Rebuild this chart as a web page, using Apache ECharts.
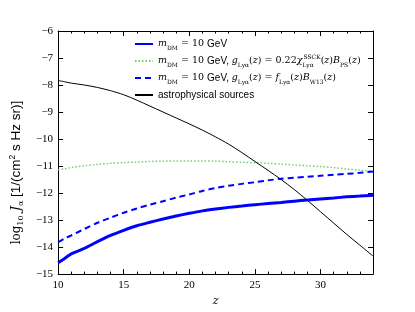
<!DOCTYPE html>
<html><head><meta charset="utf-8">
<script src="https://cdn.jsdelivr.net/npm/echarts@6/dist/echarts.min.js"></script>
<style>html,body{margin:0;padding:0;background:#fff}#c{width:415px;height:312px}</style>
</head><body><div id="c"></div>
<script>
const zValues = [10,10.5,11,12,13,14,15,16,17,18,19,20,21,22,23,24,25,26,27,28,29,30,31,32,33,34];
const dmSolid = [-14.58,-14.42,-14.25,-14.05,-13.8,-13.57,-13.38,-13.21,-13.08,-12.96,-12.85,-12.75,-12.66,-12.59,-12.53,-12.48,-12.43,-12.39,-12.35,-12.3,-12.26,-12.22,-12.18,-12.14,-12.11,-12.08];
const dmDotted = [-11.14,-11.1,-11.06,-10.99,-10.94,-10.9,-10.87,-10.85,-10.83,-10.82,-10.81,-10.81,-10.81,-10.82,-10.84,-10.86,-10.88,-10.9,-10.93,-10.96,-10.99,-11.02,-11.06,-11.11,-11.15,-11.19];
const dmDashed = [-13.82,-13.68,-13.57,-13.33,-13.1,-12.91,-12.73,-12.57,-12.43,-12.3,-12.17,-12.05,-11.92,-11.81,-11.73,-11.66,-11.6,-11.53,-11.47,-11.43,-11.4,-11.36,-11.32,-11.29,-11.25,-11.2];
const astro = [-7.83,-7.88,-7.93,-8.0,-8.09,-8.21,-8.36,-8.56,-8.78,-9.0,-9.22,-9.44,-9.67,-9.92,-10.19,-10.5,-10.83,-11.16,-11.5,-11.87,-12.27,-12.69,-13.11,-13.53,-13.93,-14.33];
const xTicks = [10,15,20,25,30];
const yTicks = [-15,-14,-13,-12,-11,-10,-9,-8,-7,-6];
const names = ['dmSolid','dmDotted','dmDashed','astro'];

const pair = arr => zValues.map((z,i)=>[z,arr[i]]);
const serif = 'DejaVu Serif';
const legendLabels = {
  dmSolid: '{m|m}{s|DM}{t| = 10 }{g|GeV}',
  dmDotted: '{m|m}{s|DM}{t| = 10 }{g|GeV, }{m|g}{s|Lyα}{t|(}{m|z}{t|) = 0.22}{m|χ}{s0|Lyα}{p|SSCK}{t|(}{m|z}{t|)}{m|B}{s|PS}{t|(}{m|z}{t|)}',
  dmDashed: '{m|m}{s|DM}{t| = 10 }{g|GeV, }{m|g}{s|Lyα}{t|(}{m|z}{t|) = }{m|f}{s|Lyα}{t|(}{m|z}{t|)}{m|B}{s|W13}{t|(}{m|z}{t|)}',
  astro: '{g|astrophysical sources}'
};
const chart = echarts.init(document.getElementById('c'), null, {renderer:'canvas'});
const axisCommon = {
  axisLine:{show:true,onZero:false,lineStyle:{color:'#000',width:1}},
  splitLine:{show:false}
};
chart.setOption({
  animation:false,
  backgroundColor:'#fff',
  grid:{left:52,right:42,top:31,bottom:32,containLabel:false},
  legend:{
    orient:'vertical', left:129, top:32, itemWidth:18, itemHeight:10, itemGap:3,
    itemStyle:{opacity:0},
    data:names, formatter: n => legendLabels[n],
    textStyle:{color:'#000',fontSize:10,lineHeight:14,
      rich:{
        m:{fontFamily:serif,fontStyle:'italic',fontSize:9.5,color:'#000'},
        s:{fontFamily:serif,fontSize:6,color:'#000',verticalAlign:'bottom',lineHeight:11},
        s0:{fontFamily:serif,fontSize:6,color:'#000',verticalAlign:'bottom',lineHeight:11,width:1},
        p:{fontFamily:serif,fontSize:6,color:'#000',verticalAlign:'top',lineHeight:14},
        t:{fontFamily:serif,fontSize:9.5,color:'#000'},
        g:{fontFamily:'Liberation Sans',fontSize:10,color:'#000'}
      }}
  },
  xAxis:[
    Object.assign({type:'value',min:10,max:34,interval:5,position:'bottom',
      name:'z',nameLocation:'middle',nameGap:21,
      nameTextStyle:{fontFamily:serif,fontStyle:'italic',fontSize:11,color:'#000'},
      axisTick:{show:true,inside:true,length:5,lineStyle:{color:'#000'}},
      minorTick:{show:true,splitNumber:5,length:2.5,lineStyle:{color:'#000'}},
      axisLabel:{fontFamily:'Liberation Serif',fontSize:11,color:'#000',margin:6,
        formatter:v=>xTicks.includes(v)?String(v):''}},axisCommon),
    Object.assign({type:'value',min:10,max:34,interval:5,position:'top',
      axisTick:{show:true,inside:true,length:5,lineStyle:{color:'#000'}},
      minorTick:{show:true,splitNumber:5,length:2.5,lineStyle:{color:'#000'}},
      axisLabel:{show:false}},axisCommon)
  ],
  yAxis:[
    Object.assign({type:'value',min:-15,max:-6,interval:1,position:'left',
      name:'{a|log}{b|10}{c| J}{b|α}{d| [1/(cm}{e|2}{d| s Hz sr)]}',
      nameLocation:'middle',nameGap:25,nameRotate:90,
      nameTextStyle:{padding:[0,40,0,0],rich:{
        a:{fontFamily:serif,fontSize:12,color:'#000'},
        b:{fontFamily:serif,fontSize:8,color:'#000',verticalAlign:'bottom',lineHeight:13},
        c:{fontFamily:serif,fontStyle:'italic',fontSize:13,color:'#000'},
        d:{fontFamily:'Liberation Sans',fontSize:13.5,color:'#000'},
        e:{fontFamily:'Liberation Sans',fontSize:8.5,color:'#000',verticalAlign:'top',lineHeight:17}
      }},
      axisTick:{show:true,inside:true,length:5,lineStyle:{color:'#000'}},
      axisLabel:{fontFamily:'Liberation Serif',fontSize:11,color:'#000',margin:5,
        formatter:v=>yTicks.includes(v)?String(v).replace('-','\u2212'):''}},axisCommon),
    Object.assign({type:'value',min:-15,max:-6,interval:1,position:'right',
      axisTick:{show:true,inside:true,length:5,lineStyle:{color:'#000'}},
      axisLabel:{show:false}},axisCommon)
  ],
  series:[
    {name:'dmSolid',type:'line',data:pair(dmSolid),symbol:'none',smooth:0.3,
      lineStyle:{color:'#0000ff',width:3},itemStyle:{color:'#0000ff'}},
    {name:'dmDotted',type:'line',data:pair(dmDotted),symbol:'none',smooth:0.3,
      lineStyle:{color:'#6fd06f',width:1.5,type:[1.5,2]},itemStyle:{color:'#6fd06f'}},
    {name:'dmDashed',type:'line',data:pair(dmDashed),symbol:'none',smooth:0.3,
      lineStyle:{color:'#0000ff',width:2,type:[6,4]},itemStyle:{color:'#0000ff'}},
    {name:'astro',type:'line',data:pair(astro),symbol:'none',smooth:0.3,
      lineStyle:{color:'#000',width:1},itemStyle:{color:'#000'}}
  ]
});
</script></body></html>
